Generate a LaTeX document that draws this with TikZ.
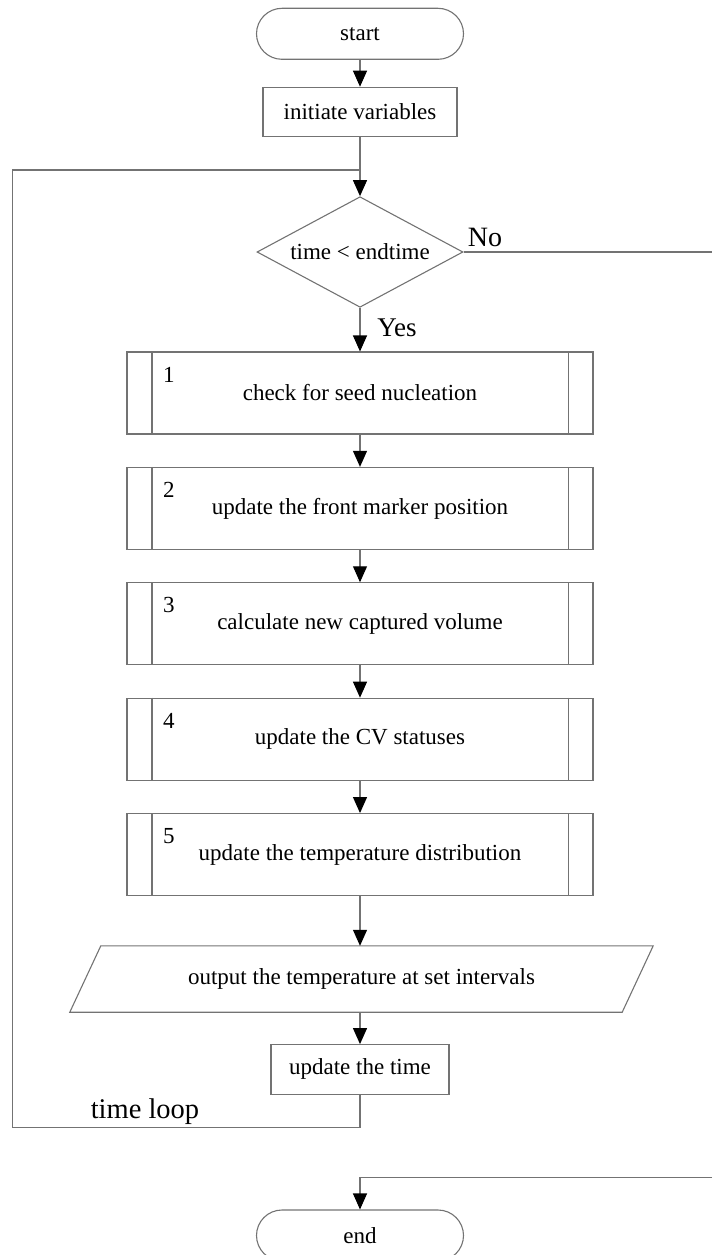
\documentclass[tikz,border=0pt]{standalone}
\usepackage{fontspec}
\setmainfont{Liberation Serif}
\usetikzlibrary{arrows.meta,shapes.geometric,calc}
\definecolor{linec}{gray}{0.45}

\begin{document}
\begin{tikzpicture}[x=1pt,y=-1pt,
  every node/.style={font=\fontsize{23}{27}\selectfont, text=black},
  conn/.style={draw=linec, line width=1.1pt},
  arr/.style={conn, -{Triangle[length=16pt,width=14pt,color=black]}},
  termbox/.style={conn, rectangle, rounded corners=25.5pt, minimum width=207pt, minimum height=51pt, inner sep=0pt},
  procbox/.style={conn, rectangle, minimum height=49.5pt, inner sep=0pt},
  decbox/.style={conn, diamond, aspect=1.86, minimum width=206pt, minimum height=110.6pt, inner sep=0pt},
  subbox/.style={conn, rectangle, minimum width=466pt, minimum height=82pt, inner sep=0pt},
  iobox/.style={rectangle, minimum width=552pt, minimum height=66pt, inner sep=0pt},
  lbltext/.style={font=\fontsize{27}{30}\selectfont},
]
\useasboundingbox (0,0) rectangle (712,1255);

% main column
\node[termbox] (start) at (360,33.8) {start};
\node[procbox, minimum width=194pt] (init) at (360,112) {initiate variables};
\coordinate (join) at (360,170);
\node[decbox] (cond) at (360,252) {time < endtime};

\node[subbox] (s1) at (360,393)   {check for seed nucleation};
\node[subbox] (s2) at (360,508.4) {update the front marker position};
\node[subbox] (s3) at (360,623.8) {calculate new captured volume};
\node[subbox] (s4) at (360,739.2) {update the CV statuses};
\node[subbox] (s5) at (360,854.6) {update the temperature distribution};

% side bars and step numbers of the predefined-process boxes
\foreach \b/\n in {s1/1,s2/2,s3/3,s4/4,s5/5}{
  \draw[conn] ([xshift=25.5pt]\b.north west) -- ([xshift=25.5pt]\b.south west);
  \draw[conn] ([xshift=-25.5pt]\b.north east) -- ([xshift=-25.5pt]\b.south east);
  \node at ([xshift=42.5pt,yshift=-23pt]\b.north west) {\n};
}

% output (parallelogram)
\node[iobox] (out) at (361.5,979) {output the temperature at set intervals};
\draw[conn] ([xshift=-15.5pt]out.south west) -- ([xshift=15.5pt]out.north west)
  -- ([xshift=15.5pt]out.north east) -- ([xshift=-15.5pt]out.south east) -- cycle;

\node[procbox, minimum width=178pt] (upd) at (360,1069.4) {update the time};
\node[termbox] (end) at (360,1235.5) {end};

% connectors
\draw[arr] (start) -- (init);
\draw[conn] (init) -- (join);
\draw[arr] (join) -- (cond);

\coordinate (noR) at (712,252);
\draw[conn] (cond.east) -- (noR);
\node[lbltext, font=\fontsize{28}{31}\selectfont] at (485,237.5) {No};

\draw[arr] (cond) -- (s1);
\node[lbltext] at (397,328) {Yes};

\draw[arr] (s1) -- (s2);
\draw[arr] (s2) -- (s3);
\draw[arr] (s3) -- (s4);
\draw[arr] (s4) -- (s5);
\draw[arr] (s5.south) -- (s5.south |- out.north);
\draw[arr] (upd.north |- out.south) -- (upd.north);

% time loop back to the condition
\coordinate (lb) at (12.3,1127.3);
\draw[conn] (upd.south) |- (lb) |- (join);
\node[lbltext, font=\fontsize{28.5}{31}\selectfont] at (145,1112) {time loop};

% exit path to the end terminal
\coordinate (endR) at (712,1177.3);
\draw[arr] (endR) -| (end.north);
\end{tikzpicture}
\end{document}
